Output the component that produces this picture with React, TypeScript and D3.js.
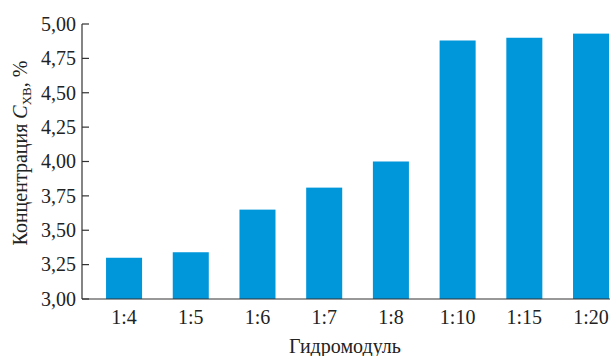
import React from "react";
import * as d3 from "d3";

const categories = ["1:4", "1:5", "1:6", "1:7", "1:8", "1:10", "1:15", "1:20"];
const values = [3.30, 3.34, 3.65, 3.81, 4.00, 4.88, 4.90, 4.93];
const yTicks = [3.0, 3.25, 3.5, 3.75, 4.0, 4.25, 4.5, 4.75, 5.0];

const W = 610;
const H = 356;
const axisX = 82;
const axisY = 299;
const FONT = "Liberation Serif";

export default function App() {
  const x = d3
    .scaleBand<string>()
    .domain(categories)
    .range([90.7, 624.4])
    .paddingInner(0.46)
    .paddingOuter(0.23);
  const y = d3.scaleLinear().domain([3, 5]).range([axisY, 24]);
  const fmt = (v: number) => v.toFixed(2).replace(".", ",");
  const color = "#0096da";
  const axisColor = "#333";

  return (
    <svg
      width={W}
      height={H}
      style={{ position: "absolute", left: 0, top: 0, display: "block", background: "#fff" }}
    >
      {categories.map((c, i) => (
        <rect
          key={c}
          x={x(c)}
          y={y(values[i])}
          width={x.bandwidth()}
          height={y(3) - y(values[i])}
          fill={color}
        />
      ))}
      {/* y axis */}
      <line x1={axisX} x2={axisX} y1={y(5)} y2={axisY} stroke={axisColor} strokeWidth={1.2} />
      {yTicks.map((t) => (
        <g key={t}>
          <line x1={axisX} x2={axisX + 7} y1={y(t)} y2={y(t)} stroke={axisColor} strokeWidth={1.2} />
          <text x={axisX - 6} y={y(t)} dy="0.34em" textAnchor="end" fontSize={20} fill="#222" fontFamily={FONT}>
            {fmt(t)}
          </text>
        </g>
      ))}
      {/* x axis */}
      <line x1={axisX} x2={W} y1={axisY} y2={axisY} stroke={axisColor} strokeWidth={1.2} />
      {categories.map((c) => (
        <text
          key={c}
          x={(x(c) as number) + x.bandwidth() / 2}
          y={324}
          textAnchor="middle"
          fontSize={20}
          fill="#222"
          fontFamily={FONT}
        >
          {c}
        </text>
      ))}
      <text x={345} y={353} textAnchor="middle" fontSize={20} fill="#222" fontFamily={FONT}>
        Гидромодуль
      </text>
      <text
        transform={`translate(27,${153}) rotate(-90)`}
        textAnchor="middle"
        fontSize={20}
        fill="#222"
        fontFamily={FONT}
      >
        Концентрация <tspan fontStyle="italic">C</tspan>
        <tspan fontSize={13} dy={4}>ХВ</tspan>
        <tspan dy={-4}>, %</tspan>
      </text>
    </svg>
  );
}
